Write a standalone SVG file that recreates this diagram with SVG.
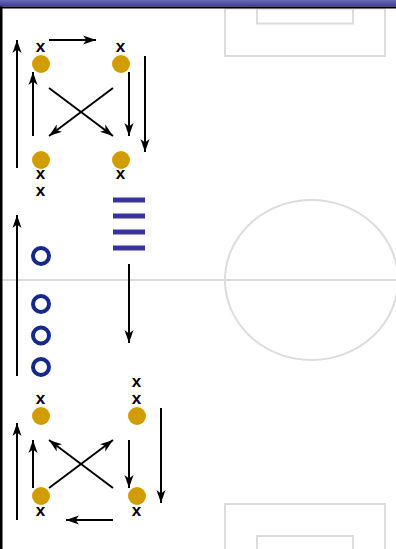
<svg xmlns="http://www.w3.org/2000/svg" width="396" height="549" viewBox="0 0 396 549">
<style>
.pitch{fill:none;stroke:#dcdcdc;stroke-width:2}
.pl{fill:#d29d00}
.op{fill:none;stroke:#15298c;stroke-width:4}
.bar{fill:#36369a}
.lbl{font-family:"Liberation Sans",Arial,sans-serif;font-weight:bold;font-size:17px;fill:#000;text-anchor:middle}
.ar{stroke:#000;stroke-width:2;fill:none;marker-end:url(#ah)}
</style>
<defs>
<linearGradient id="topg" x1="0" y1="0" x2="0" y2="1">
<stop offset="0" stop-color="#6a6ab8"/>
<stop offset="1" stop-color="#3c3c94"/>
</linearGradient>
<marker id="ah" markerUnits="userSpaceOnUse" markerWidth="14" markerHeight="10" refX="13" refY="5" orient="auto">
<path d="M0,0.5 L13,5 L0,9.5 L3.5,5 Z" fill="#000"/>
</marker>
</defs>
<rect width="396" height="549" fill="#fff"/>
<g id="pitch">
<line class="pitch" x1="3" y1="280" x2="396" y2="280"/>
<ellipse class="pitch" cx="311.5" cy="280" rx="86.5" ry="80"/>
<rect class="pitch" x="225" y="8.5" width="160" height="47.5"/>
<rect class="pitch" x="257" y="8.5" width="96" height="15"/>
<rect class="pitch" x="225" y="504" width="160" height="60"/>
<rect class="pitch" x="257" y="536" width="96" height="30"/>
</g>
<g id="frame">
<rect x="0" y="0" width="396" height="6.5" fill="url(#topg)"/>
<rect x="0" y="6.5" width="396" height="2" fill="#000"/>
<rect x="0" y="6.5" width="2.5" height="542.5" fill="#000"/>
</g>
<g id="connectors">
<line class="ar" x1="17" y1="168" x2="17" y2="40"/>
<line class="ar" x1="33" y1="136" x2="33" y2="72"/>
<line class="ar" x1="49" y1="40" x2="96" y2="40"/>
<line class="ar" x1="49" y1="88" x2="113" y2="136"/>
<line class="ar" x1="113" y1="88" x2="49" y2="136"/>
<line class="ar" x1="129" y1="72" x2="129" y2="136"/>
<line class="ar" x1="145" y1="56" x2="145" y2="152"/>
<line class="ar" x1="17" y1="376" x2="17" y2="215"/>
<line class="ar" x1="129" y1="264" x2="129" y2="343"/>
<line class="ar" x1="17" y1="520" x2="17" y2="423"/>
<line class="ar" x1="33" y1="488" x2="33" y2="440"/>
<line class="ar" x1="49" y1="488" x2="113" y2="440"/>
<line class="ar" x1="113" y1="488" x2="49" y2="440"/>
<line class="ar" x1="129" y1="440" x2="129" y2="488"/>
<line class="ar" x1="161" y1="408" x2="161" y2="503"/>
<line class="ar" x1="113" y1="520" x2="66" y2="520"/>
</g>
<g id="players-top">
<circle class="pl" cx="41" cy="64" r="9"/>
<circle class="pl" cx="121" cy="64" r="9"/>
<circle class="pl" cx="41" cy="160" r="9"/>
<circle class="pl" cx="121" cy="160" r="9"/>
</g>
<g id="players-bottom">
<circle class="pl" cx="41" cy="416" r="9"/>
<circle class="pl" cx="137" cy="416" r="9"/>
<circle class="pl" cx="41" cy="496" r="9"/>
<circle class="pl" cx="137" cy="496" r="9"/>
</g>
<g id="opponents">
<circle class="op" cx="41" cy="256" r="8"/>
<circle class="op" cx="41" cy="304" r="8"/>
<circle class="op" cx="41" cy="335.5" r="8"/>
<circle class="op" cx="41" cy="367" r="8"/>
</g>
<g id="ladder">
<rect class="bar" x="113" y="197.5" width="32" height="5"/>
<rect class="bar" x="113" y="213.5" width="32" height="5"/>
<rect class="bar" x="113" y="229.5" width="32" height="5"/>
<rect class="bar" x="113" y="245.5" width="32" height="5"/>
</g>
<g id="labels">
<text class="lbl" x="40.5" y="51.5">x</text>
<text class="lbl" x="120.5" y="51.5">x</text>
<text class="lbl" x="40.5" y="178.5">x</text>
<text class="lbl" x="40.5" y="195.5">x</text>
<text class="lbl" x="120.5" y="178.5">x</text>
<text class="lbl" x="136.5" y="387">x</text>
<text class="lbl" x="136.5" y="403.5">x</text>
<text class="lbl" x="40.5" y="403.5">x</text>
<text class="lbl" x="40.5" y="515.5">x</text>
<text class="lbl" x="136.5" y="515.5">x</text>
</g>
</svg>
